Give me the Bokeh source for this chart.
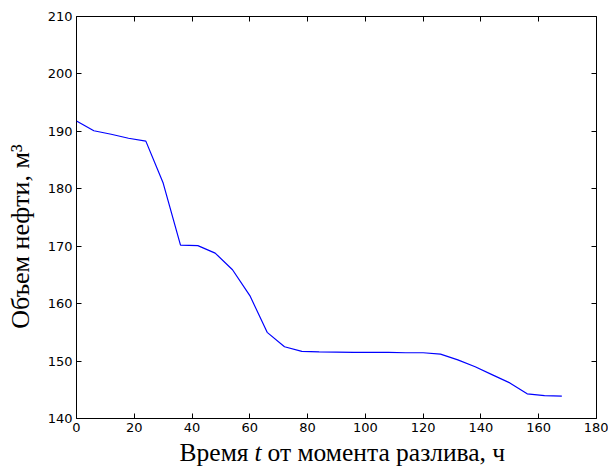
from bokeh.plotting import figure
from bokeh.models import Range1d, FixedTicker, LinearAxis, Label, ColumnDataSource
from bokeh.layouts import column, row
from bokeh.embed import file_html
from bokeh.resources import INLINE
import math

time_h = [0, 6, 12, 18, 24, 30, 36, 42, 48, 54, 60, 66, 72, 78, 84, 90, 96, 102,
          108, 114, 120, 126, 132, 138, 144, 150, 156, 162, 168]
volume = [191.8, 190.1, 189.5, 188.8, 188.3, 181.0, 170.2, 170.1, 168.8, 165.9,
          161.4, 155.0, 152.5, 151.7, 151.6, 151.55, 151.5, 151.5, 151.5, 151.45,
          151.45, 151.2, 150.2, 149.0, 147.6, 146.2, 144.3, 144.0, 143.9]
x_ticks = [0, 20, 40, 60, 80, 100, 120, 140, 160, 180]
y_ticks = [140, 150, 160, 170, 180, 190, 200, 210]
x_label_parts = ["Время", "t", "от момента разлива, ч"]
y_label = "Объем нефти, м³"

p = figure(width=564, height=438, output_backend="svg", toolbar_location=None,
           x_range=Range1d(0, 180), y_range=Range1d(140, 210),
           min_border_left=32, min_border_right=12, min_border_top=16, min_border_bottom=20)
p.xgrid.visible = False
p.ygrid.visible = False
p.outline_line_color = "black"
p.outline_line_alpha = 1
p.outline_line_width = 1
p.background_fill_color = "white"
p.border_fill_color = "white"

src = ColumnDataSource(dict(t=time_h, v=volume))
p.line("t", "v", source=src, line_color="#0000ff", line_width=1.2)

def style(ax, ticks, labels=True):
    ax.ticker = FixedTicker(ticks=ticks)
    ax.major_tick_in = 5
    ax.major_tick_out = 0
    ax.minor_tick_in = 0
    ax.minor_tick_out = 0
    ax.major_tick_line_color = "black"
    ax.axis_line_color = None
    if labels:
        ax.major_label_text_font = "DejaVu Sans"
        ax.major_label_text_font_size = "13px"
        ax.major_label_text_color = "black"
        ax.major_label_standoff = 4
    else:
        ax.major_label_overrides = {t: "" for t in ticks}
        ax.major_label_standoff = 0

style(p.xaxis[0], x_ticks)
style(p.yaxis[0], y_ticks)
p.xaxis[0].axis_label = None
p.yaxis[0].axis_label = None

top = LinearAxis()
right = LinearAxis()
style(top, x_ticks, labels=False)
style(right, y_ticks, labels=False)
p.add_layout(top, "above")
p.add_layout(right, "right")

def text_panel(w, h):
    f = figure(width=w, height=h, output_backend="svg", toolbar_location=None,
               x_axis_type=None, y_axis_type=None, min_border=0,
               x_range=Range1d(0, 1), y_range=Range1d(0, 1))
    f.xgrid.visible = False
    f.ygrid.visible = False
    f.outline_line_color = None
    f.background_fill_color = "white"
    f.border_fill_color = "white"
    return f

common = dict(x_units="screen", y_units="screen", text_font="Liberation Serif",
              text_color="black", text_baseline="alphabetic")

ylab = text_panel(44, 438)
ylab.add_layout(Label(x=20, y=182, text=y_label, text_align="center",
                      angle=math.pi / 2, text_font_size="26px", **common))

xlab = text_panel(608, 28)
xfs = "25.5px"
xlab.add_layout(Label(x=248, y=14, text=x_label_parts[0], text_align="right",
                      text_font_size=xfs, **common))
xlab.add_layout(Label(x=257.5, y=14, text=x_label_parts[1], text_align="center",
                      text_font_style="italic", text_font_size=xfs, **common))
xlab.add_layout(Label(x=267, y=14, text=x_label_parts[2], text_align="left",
                      text_font_size=xfs, **common))

layout = column(row(ylab, p, spacing=0), xlab, spacing=0)
open("out.html", "w").write(file_html(layout, INLINE))
